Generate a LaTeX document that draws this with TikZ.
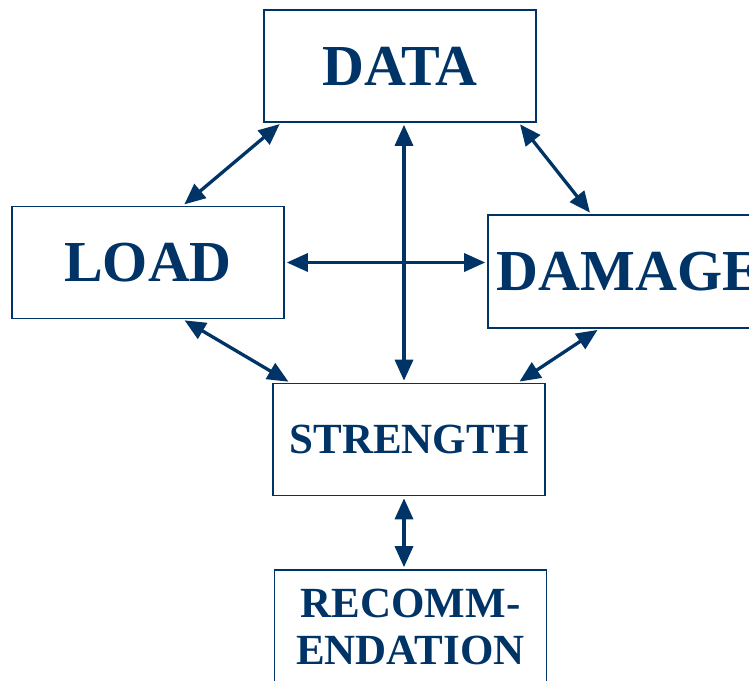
\documentclass[tikz,border=0pt]{standalone}
\usepackage{fontspec}
\setmainfont{Liberation Serif}
\usepackage{tikz}
\usetikzlibrary{arrows.meta}
\definecolor{navy}{HTML}{003366}
\tikzstyle{box}=[draw=navy, line width=1.6pt, inner sep=0pt, minimum width=272pt, minimum height=112pt, text=navy, align=center, font=\bfseries\fontsize{58}{60}\selectfont]
\tikzstyle{small}=[font=\bfseries\fontsize{43}{47}\selectfont]
\tikzstyle{link}=[navy, line width=3.3pt, >={Triangle[length=21pt,width=18pt]}, <->, shorten <=2pt, shorten >=2pt]

\begin{document}
\begin{tikzpicture}[x=1pt,y=-1pt]
\useasboundingbox (0,0) rectangle (749,680);
\node[box] (data) at (400,66) {DATA};
\node[box] (load) at (148,262.5) {LOAD};
\node[box, minimum width=282pt, minimum height=113pt] (damage) at (629,271.5) {DAMAGE};
\node[box, small] (strength) at (409,439.5) {STRENGTH};
\node[box, small, minimum height=113pt] (recomm) at (410.5,626.5) {RECOMM-\\ENDATION};
% links
\draw[link] ([xshift=18pt]data.south west) -- ([xshift=-102pt]load.north east);
\draw[link] ([xshift=-18pt]data.south east) -- ([xshift=104pt]damage.north west);
\draw[link] (load.east) -- (load.east -| damage.west);
\draw[link] ([xshift=4pt]data.south) -- ([xshift=4pt]data.south |- strength.north);
\draw[link] ([xshift=-102pt]load.south east) -- ([xshift=18pt]strength.north west);
\draw[link] ([xshift=112pt]damage.south west) -- ([xshift=-28pt]strength.north east);
\draw[link] ([xshift=-5pt]strength.south) -- ([xshift=-5pt]strength.south |- recomm.north);
\end{tikzpicture}
\end{document}
